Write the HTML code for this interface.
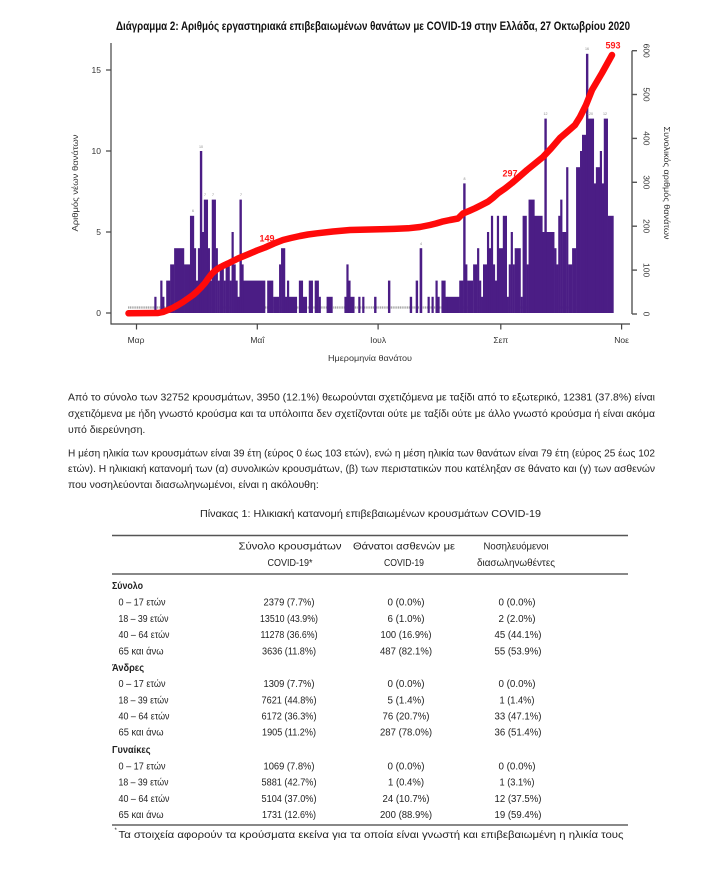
<!DOCTYPE html>
<html><head><meta charset="utf-8">
<style>
html,body{margin:0;padding:0;background:#fff;width:723px;height:871px;overflow:hidden}
svg{display:block}
text{font-family:"Liberation Sans","DejaVu Sans",sans-serif}
</style></head>
<body>
<svg width="723" height="871" viewBox="0 0 723 871" xmlns="http://www.w3.org/2000/svg">
<rect width="723" height="871" fill="#fff"/>

<!-- Title -->
<text x="116" y="30" font-size="11.5" font-weight="bold" fill="#111" textLength="514" lengthAdjust="spacingAndGlyphs">Διάγραμμα 2: Αριθμός εργαστηριακά επιβεβαιωμένων θανάτων με COVID-19 στην Ελλάδα, 27 Οκτωβρίου 2020</text>

<!-- zero grey line -->
<line x1="128" y1="307.5" x2="613" y2="307.5" stroke="#a8a8a8" stroke-width="2.2" stroke-dasharray="1.2 0.6"/>

<!-- Bars -->
<g fill="#4b1d85" transform="translate(1,0)">
<rect x="153.32" y="296.8" width="2.2" height="16.2"/>
<rect x="159.26" y="280.6" width="2.2" height="32.4"/>
<rect x="161.24" y="296.8" width="2.2" height="16.2"/>
<rect x="165.2" y="280.6" width="4.2" height="32.4"/>
<rect x="169.16" y="264.4" width="4.2" height="48.6"/>
<rect x="173.12" y="248.2" width="10.1" height="64.8"/>
<rect x="183.02" y="264.4" width="6.1" height="48.6"/>
<rect x="188.96" y="215.8" width="4.2" height="97.2"/>
<rect x="192.92" y="248.2" width="2.2" height="64.8"/>
<rect x="194.9" y="280.6" width="2.2" height="32.4"/>
<rect x="196.88" y="248.2" width="2.2" height="64.8"/>
<rect x="198.86" y="151" width="2.4" height="162"/>
<rect x="200.84" y="232" width="2.2" height="81"/>
<rect x="202.82" y="199.6" width="4.2" height="113.4"/>
<rect x="206.78" y="248.2" width="2.2" height="64.8"/>
<rect x="208.76" y="280.6" width="2.2" height="32.4"/>
<rect x="210.74" y="199.6" width="4.2" height="113.4"/>
<rect x="214.7" y="248.2" width="2.2" height="64.8"/>
<rect x="216.68" y="280.6" width="2.2" height="32.4"/>
<rect x="218.66" y="264.4" width="4.2" height="48.6"/>
<rect x="222.62" y="280.6" width="2.2" height="32.4"/>
<rect x="224.6" y="264.4" width="4.2" height="48.6"/>
<rect x="228.56" y="280.6" width="2.2" height="32.4"/>
<rect x="230.54" y="232" width="2.2" height="81"/>
<rect x="232.52" y="264.4" width="2.2" height="48.6"/>
<rect x="234.5" y="280.6" width="2.2" height="32.4"/>
<rect x="236.48" y="296.8" width="2.2" height="16.2"/>
<rect x="238.46" y="199.6" width="2.4" height="113.4"/>
<rect x="240.44" y="264.4" width="2.2" height="48.6"/>
<rect x="242.42" y="280.6" width="21.9" height="32.4"/>
<rect x="266.18" y="280.6" width="6.1" height="32.4"/>
<rect x="272.12" y="296.8" width="6.1" height="16.2"/>
<rect x="278.06" y="264.4" width="2.2" height="48.6"/>
<rect x="280.04" y="248.2" width="4.2" height="64.8"/>
<rect x="283.99" y="296.8" width="2.2" height="16.2"/>
<rect x="285.98" y="280.6" width="2.2" height="32.4"/>
<rect x="287.96" y="296.8" width="8.1" height="16.2"/>
<rect x="297.86" y="280.6" width="4.2" height="32.4"/>
<rect x="301.82" y="296.8" width="4.2" height="16.2"/>
<rect x="307.76" y="280.6" width="4.2" height="32.4"/>
<rect x="313.7" y="280.6" width="4.2" height="32.4"/>
<rect x="317.66" y="296.8" width="2.2" height="16.2"/>
<rect x="325.58" y="296.8" width="6.1" height="16.2"/>
<rect x="343.4" y="296.8" width="2.2" height="16.2"/>
<rect x="345.38" y="264.4" width="2.2" height="48.6"/>
<rect x="347.36" y="280.6" width="2.2" height="32.4"/>
<rect x="349.34" y="296.8" width="4.2" height="16.2"/>
<rect x="357.26" y="296.8" width="2.2" height="16.2"/>
<rect x="361.22" y="296.8" width="2.2" height="16.2"/>
<rect x="373.1" y="296.8" width="2.4" height="16.2"/>
<rect x="386.96" y="280.6" width="2.4" height="32.4"/>
<rect x="408.74" y="296.8" width="2.4" height="16.2"/>
<rect x="414.68" y="280.6" width="2.4" height="32.4"/>
<rect x="418.64" y="248.2" width="2.6" height="64.8"/>
<rect x="426.56" y="296.8" width="2.2" height="16.2"/>
<rect x="430.52" y="296.8" width="2.2" height="16.2"/>
<rect x="434.48" y="280.6" width="2.2" height="32.4"/>
<rect x="436.46" y="296.8" width="2.2" height="16.2"/>
<rect x="440.42" y="280.6" width="4.2" height="32.4"/>
<rect x="444.38" y="296.8" width="2.2" height="16.2"/>
<rect x="446.36" y="296.8" width="12.1" height="16.2"/>
<rect x="458.24" y="280.6" width="4.2" height="32.4"/>
<rect x="462.2" y="183.4" width="2.4" height="129.6"/>
<rect x="464.18" y="264.4" width="2.2" height="48.6"/>
<rect x="466.16" y="280.6" width="6.1" height="32.4"/>
<rect x="472.1" y="264.4" width="4.2" height="48.6"/>
<rect x="476.06" y="248.2" width="2.2" height="64.8"/>
<rect x="478.04" y="280.6" width="2.2" height="32.4"/>
<rect x="480.02" y="296.8" width="2.2" height="16.2"/>
<rect x="482" y="264.4" width="4.2" height="48.6"/>
<rect x="485.96" y="232" width="2.2" height="81"/>
<rect x="487.94" y="248.2" width="2.2" height="64.8"/>
<rect x="489.92" y="215.8" width="2.2" height="97.2"/>
<rect x="491.9" y="264.4" width="2.2" height="48.6"/>
<rect x="493.88" y="280.6" width="2.2" height="32.4"/>
<rect x="495.86" y="215.8" width="2.2" height="97.2"/>
<rect x="497.84" y="248.2" width="4.2" height="64.8"/>
<rect x="501.8" y="215.8" width="4.2" height="97.2"/>
<rect x="505.76" y="296.8" width="2.2" height="16.2"/>
<rect x="507.74" y="264.4" width="2.2" height="48.6"/>
<rect x="509.72" y="232" width="2.2" height="81"/>
<rect x="511.7" y="264.4" width="2.2" height="48.6"/>
<rect x="513.68" y="248.2" width="6.1" height="64.8"/>
<rect x="519.62" y="296.8" width="2.2" height="16.2"/>
<rect x="521.6" y="215.8" width="4.2" height="97.2"/>
<rect x="525.56" y="264.4" width="2.2" height="48.6"/>
<rect x="527.54" y="199.6" width="6.1" height="113.4"/>
<rect x="533.48" y="215.8" width="8.1" height="97.2"/>
<rect x="541.4" y="232" width="2.2" height="81"/>
<rect x="543.38" y="118.6" width="2.4" height="194.4"/>
<rect x="545.36" y="232" width="8.1" height="81"/>
<rect x="553.28" y="248.2" width="2.2" height="64.8"/>
<rect x="555.26" y="264.4" width="2.2" height="48.6"/>
<rect x="557.24" y="215.8" width="2.2" height="97.2"/>
<rect x="559.22" y="199.6" width="2.2" height="113.4"/>
<rect x="561.2" y="232" width="4.2" height="81"/>
<rect x="565.16" y="167.2" width="2.2" height="145.8"/>
<rect x="567.14" y="264.4" width="4.2" height="48.6"/>
<rect x="571.1" y="248.2" width="4.2" height="64.8"/>
<rect x="575.06" y="167.2" width="4.2" height="145.8"/>
<rect x="579.02" y="151" width="2.2" height="162"/>
<rect x="581" y="134.8" width="4.2" height="178.2"/>
<rect x="584.96" y="53.8" width="2.4" height="259.2"/>
<rect x="586.94" y="118.6" width="6.1" height="194.4"/>
<rect x="592.88" y="183.4" width="2.2" height="129.6"/>
<rect x="594.86" y="167.2" width="4.2" height="145.8"/>
<rect x="598.82" y="151" width="2.2" height="162"/>
<rect x="600.8" y="183.4" width="2.2" height="129.6"/>
<rect x="602.78" y="118.6" width="4.2" height="194.4"/>
<rect x="606.74" y="215.8" width="5.94" height="97.2"/>
</g>

<!-- tiny bar labels -->
<g font-size="3.6" fill="#888" text-anchor="middle">
<text x="201" y="148">10</text>
<text x="464.5" y="180">8</text>
<text x="545.5" y="115">12</text>
<text x="587" y="50">16</text>
<text x="590" y="115">120</text>
<text x="605" y="115">12</text>
<text x="193" y="212">6</text>
<text x="205" y="196">7</text>
<text x="213" y="196">7</text>
<text x="241" y="196">7</text>
<text x="421" y="245">4</text>
</g>

<!-- cumulative red line -->
<polyline fill="none" stroke="#ff0a0a" stroke-width="6.5" stroke-linecap="round" stroke-linejoin="round"
points="128.5,313.3 158,313 163,312 168,310 173,307.8 178,305 183,302 188,298.5 193,295 197,291.5 201,287.5 205,283 208.5,278 212,273.5 215,270.8 218,268.5 223,265.8 228,263.5 233,261 238,258.5 244,256 250,253.5 257,250.5 265,247.5 274,243.5 283,240 291,238 300,236 308,234.5 317,233.3 333,231.5 350,230 365,229.6 380,229.3 394,228.9 408,228.3 420,227 430,225 436,223.5 442,221.7 450,220 458,218.5 463,213.5 469,211 475,208.3 481,205.3 488,201.7 493,197.8 498,193.3 505,188.5 512,183 519,177 527,170 535,163.5 543,157 551,148.5 560,138 567,132 575,125 580,117 586,105 589,97.5 592,90 597,81.5 602,73 607,64 612,55"/>

<g font-size="9" font-weight="bold" fill="#ff1a1a" text-anchor="middle">
<text x="267" y="241.5">149</text>
<text x="510" y="176.5">297</text>
<text x="613" y="48.5">593</text>
</g>

<!-- Axes -->
<g stroke="#444" stroke-width="1.2" fill="none">
<line x1="111" y1="43" x2="111" y2="324.5"/>
<line x1="110.5" y1="324" x2="630" y2="324"/>
<line x1="106" y1="313" x2="111" y2="313"/>
<line x1="106" y1="232" x2="111" y2="232"/>
<line x1="106" y1="151" x2="111" y2="151"/>
<line x1="106" y1="70" x2="111" y2="70"/>
<line x1="136.5" y1="324" x2="136.5" y2="329.5"/>
<line x1="257.3" y1="324" x2="257.3" y2="329.5"/>
<line x1="378.1" y1="324" x2="378.1" y2="329.5"/>
<line x1="500.8" y1="324" x2="500.8" y2="329.5"/>
<line x1="621.6" y1="324" x2="621.6" y2="329.5"/>
</g>
<g stroke="#555" stroke-width="1.4" fill="none">
<line x1="632" y1="50.7" x2="632" y2="314"/>
<line x1="632" y1="314" x2="637" y2="314"/>
<line x1="632" y1="270.1" x2="637" y2="270.1"/>
<line x1="632" y1="226.2" x2="637" y2="226.2"/>
<line x1="632" y1="182.3" x2="637" y2="182.3"/>
<line x1="632" y1="138.4" x2="637" y2="138.4"/>
<line x1="632" y1="94.5" x2="637" y2="94.5"/>
<line x1="632" y1="50.7" x2="637" y2="50.7"/>
</g>

<g font-size="8.5" fill="#333">
<text x="101" y="316" text-anchor="end">0</text>
<text x="101" y="235" text-anchor="end">5</text>
<text x="101" y="154" text-anchor="end">10</text>
<text x="101" y="73" text-anchor="end">15</text>
<g text-anchor="middle">
<text x="136" y="343">Μαρ</text>
<text x="257.3" y="343">Μαΐ</text>
<text x="378.1" y="343">Ιουλ</text>
<text x="500.8" y="343">Σεπ</text>
<text x="621.6" y="343">Νοε</text>
<text x="370" y="361" textLength="84" lengthAdjust="spacingAndGlyphs">Ημερομηνία θανάτου</text>
<text transform="translate(78,183) rotate(-90)" textLength="97" lengthAdjust="spacingAndGlyphs">Αριθμός νέων θανάτων</text>
<text transform="translate(664,183) rotate(90)" textLength="113" lengthAdjust="spacingAndGlyphs">Συνολικός αριθμός θανάτων</text>
<text transform="translate(643.5,314) rotate(90)">0</text>
<text transform="translate(643.5,270.1) rotate(90)">100</text>
<text transform="translate(643.5,226.2) rotate(90)">200</text>
<text transform="translate(643.5,182.3) rotate(90)">300</text>
<text transform="translate(643.5,138.4) rotate(90)">400</text>
<text transform="translate(643.5,94.5) rotate(90)">500</text>
<text transform="translate(643.5,50.7) rotate(90)">600</text>
</g>
</g>

<!-- Paragraphs -->
<g font-size="10.5" fill="#222">
<text x="68" y="400.5" textLength="587" lengthAdjust="spacingAndGlyphs">Από το σύνολο των 32752 κρουσμάτων, 3950 (12.1%) θεωρούνται σχετιζόμενα με ταξίδι από το εξωτερικό, 12381 (37.8%) είναι</text>
<text x="68" y="417" textLength="587" lengthAdjust="spacingAndGlyphs">σχετιζόμενα με ήδη γνωστό κρούσμα και τα υπόλοιπα δεν σχετίζονται ούτε με ταξίδι ούτε με άλλο γνωστό κρούσμα ή είναι ακόμα</text>
<text x="68" y="433">υπό διερεύνηση.</text>
<text x="68" y="456.5" textLength="587" lengthAdjust="spacingAndGlyphs">Η μέση ηλικία των κρουσμάτων είναι 39 έτη (εύρος 0 έως 103 ετών), ενώ η μέση ηλικία των θανάτων είναι 79 έτη (εύρος 25 έως 102</text>
<text x="68" y="472" textLength="587" lengthAdjust="spacingAndGlyphs">ετών). Η ηλικιακή κατανομή των (α) συνολικών κρουσμάτων, (β) των περιστατικών που κατέληξαν σε θάνατο και (γ) των ασθενών</text>
<text x="68" y="488">που νοσηλεύονται διασωληνωμένοι, είναι η ακόλουθη:</text>
<text x="200" y="517" textLength="341" lengthAdjust="spacingAndGlyphs">Πίνακας 1: Ηλικιακή κατανομή επιβεβαιωμένων κρουσμάτων COVID-19</text>
</g>

<!-- Table lines -->
<line x1="112" y1="535.5" x2="628" y2="535.5" stroke="#555" stroke-width="1.5"/>
<line x1="112" y1="574" x2="628" y2="574" stroke="#111" stroke-width="1"/>
<line x1="112" y1="825" x2="628" y2="825" stroke="#111" stroke-width="1"/>

<!-- Table header -->
<g font-size="10" fill="#222" text-anchor="middle">
<text x="290" y="549.5" textLength="103" lengthAdjust="spacingAndGlyphs">Σύνολο κρουσμάτων</text>
<text x="290" y="566" textLength="45" lengthAdjust="spacingAndGlyphs">COVID-19*</text>
<text x="404" y="549.5" textLength="102" lengthAdjust="spacingAndGlyphs">Θάνατοι ασθενών με</text>
<text x="404" y="566" textLength="40" lengthAdjust="spacingAndGlyphs">COVID-19</text>
<text x="516" y="549.5" textLength="65" lengthAdjust="spacingAndGlyphs">Νοσηλευόμενοι</text>
<text x="516" y="566" textLength="78" lengthAdjust="spacingAndGlyphs">διασωληνωθέντες</text>
</g>

<!-- Table body -->
<g font-size="10" fill="#222">
<g font-weight="bold">
<text x="112" y="589" textLength="31" lengthAdjust="spacingAndGlyphs">Σύνολο</text>
<text x="112" y="671" textLength="32" lengthAdjust="spacingAndGlyphs">Άνδρες</text>
<text x="112" y="753" textLength="38.5" lengthAdjust="spacingAndGlyphs">Γυναίκες</text>
</g>
<text x="118.5" y="605.5" textLength="47" lengthAdjust="spacingAndGlyphs">0 – 17 ετών</text>
<text x="118.5" y="622" textLength="50" lengthAdjust="spacingAndGlyphs">18 – 39 ετών</text>
<text x="118.5" y="638" textLength="51" lengthAdjust="spacingAndGlyphs">40 – 64 ετών</text>
<text x="118.5" y="654.5" textLength="45" lengthAdjust="spacingAndGlyphs">65 και άνω</text>
<text x="118.5" y="687" textLength="47" lengthAdjust="spacingAndGlyphs">0 – 17 ετών</text>
<text x="118.5" y="703.5" textLength="50" lengthAdjust="spacingAndGlyphs">18 – 39 ετών</text>
<text x="118.5" y="719.5" textLength="51" lengthAdjust="spacingAndGlyphs">40 – 64 ετών</text>
<text x="118.5" y="735.7" textLength="45" lengthAdjust="spacingAndGlyphs">65 και άνω</text>
<text x="118.5" y="769.5" textLength="47" lengthAdjust="spacingAndGlyphs">0 – 17 ετών</text>
<text x="118.5" y="785.5" textLength="50" lengthAdjust="spacingAndGlyphs">18 – 39 ετών</text>
<text x="118.5" y="802" textLength="51" lengthAdjust="spacingAndGlyphs">40 – 64 ετών</text>
<text x="118.5" y="818.2" textLength="45" lengthAdjust="spacingAndGlyphs">65 και άνω</text>

<g text-anchor="middle">
<text x="289" y="605.5" textLength="51" lengthAdjust="spacingAndGlyphs">2379 (7.7%)</text>
<text x="289" y="622" textLength="58" lengthAdjust="spacingAndGlyphs">13510 (43.9%)</text>
<text x="289" y="638" textLength="57" lengthAdjust="spacingAndGlyphs">11278 (36.6%)</text>
<text x="289" y="654.5" textLength="54" lengthAdjust="spacingAndGlyphs">3636 (11.8%)</text>
<text x="289" y="687" textLength="51" lengthAdjust="spacingAndGlyphs">1309 (7.7%)</text>
<text x="289" y="703.5" textLength="55" lengthAdjust="spacingAndGlyphs">7621 (44.8%)</text>
<text x="289" y="719.5" textLength="55" lengthAdjust="spacingAndGlyphs">6172 (36.3%)</text>
<text x="289" y="735.7" textLength="54" lengthAdjust="spacingAndGlyphs">1905 (11.2%)</text>
<text x="289" y="769.5" textLength="51" lengthAdjust="spacingAndGlyphs">1069 (7.8%)</text>
<text x="289" y="785.5" textLength="55" lengthAdjust="spacingAndGlyphs">5881 (42.7%)</text>
<text x="289" y="802" textLength="55" lengthAdjust="spacingAndGlyphs">5104 (37.0%)</text>
<text x="289" y="818.2" textLength="54" lengthAdjust="spacingAndGlyphs">1731 (12.6%)</text>

<text x="406" y="605.5" textLength="37" lengthAdjust="spacingAndGlyphs">0 (0.0%)</text>
<text x="406" y="622" textLength="37" lengthAdjust="spacingAndGlyphs">6 (1.0%)</text>
<text x="406" y="638" textLength="51" lengthAdjust="spacingAndGlyphs">100 (16.9%)</text>
<text x="406" y="654.5" textLength="52" lengthAdjust="spacingAndGlyphs">487 (82.1%)</text>
<text x="406" y="687" textLength="37" lengthAdjust="spacingAndGlyphs">0 (0.0%)</text>
<text x="406" y="703.5" textLength="37" lengthAdjust="spacingAndGlyphs">5 (1.4%)</text>
<text x="406" y="719.5" textLength="47" lengthAdjust="spacingAndGlyphs">76 (20.7%)</text>
<text x="406" y="735.7" textLength="52" lengthAdjust="spacingAndGlyphs">287 (78.0%)</text>
<text x="406" y="769.5" textLength="37" lengthAdjust="spacingAndGlyphs">0 (0.0%)</text>
<text x="406" y="785.5" textLength="36" lengthAdjust="spacingAndGlyphs">1 (0.4%)</text>
<text x="406" y="802" textLength="47" lengthAdjust="spacingAndGlyphs">24 (10.7%)</text>
<text x="406" y="818.2" textLength="52" lengthAdjust="spacingAndGlyphs">200 (88.9%)</text>

<text x="517" y="605.5" textLength="37" lengthAdjust="spacingAndGlyphs">0 (0.0%)</text>
<text x="517" y="622" textLength="37" lengthAdjust="spacingAndGlyphs">2 (2.0%)</text>
<text x="518" y="638" textLength="47" lengthAdjust="spacingAndGlyphs">45 (44.1%)</text>
<text x="518" y="654.5" textLength="47" lengthAdjust="spacingAndGlyphs">55 (53.9%)</text>
<text x="517" y="687" textLength="37" lengthAdjust="spacingAndGlyphs">0 (0.0%)</text>
<text x="517" y="703.5" textLength="35" lengthAdjust="spacingAndGlyphs">1 (1.4%)</text>
<text x="518" y="719.5" textLength="47" lengthAdjust="spacingAndGlyphs">33 (47.1%)</text>
<text x="518" y="735.7" textLength="47" lengthAdjust="spacingAndGlyphs">36 (51.4%)</text>
<text x="517" y="769.5" textLength="37" lengthAdjust="spacingAndGlyphs">0 (0.0%)</text>
<text x="517" y="785.5" textLength="35" lengthAdjust="spacingAndGlyphs">1 (3.1%)</text>
<text x="518" y="802" textLength="47" lengthAdjust="spacingAndGlyphs">12 (37.5%)</text>
<text x="518" y="818.2" textLength="47" lengthAdjust="spacingAndGlyphs">19 (59.4%)</text>
</g>
</g>

<!-- Footnote -->
<text x="114.5" y="832" font-size="6" fill="#222">*</text>
<text x="118.5" y="838" font-size="10" fill="#222" textLength="505" lengthAdjust="spacingAndGlyphs">Τα στοιχεία αφορούν τα κρούσματα εκείνα για τα οποία είναι γνωστή και επιβεβαιωμένη η ηλικία τους</text>
</svg>
</body></html>
